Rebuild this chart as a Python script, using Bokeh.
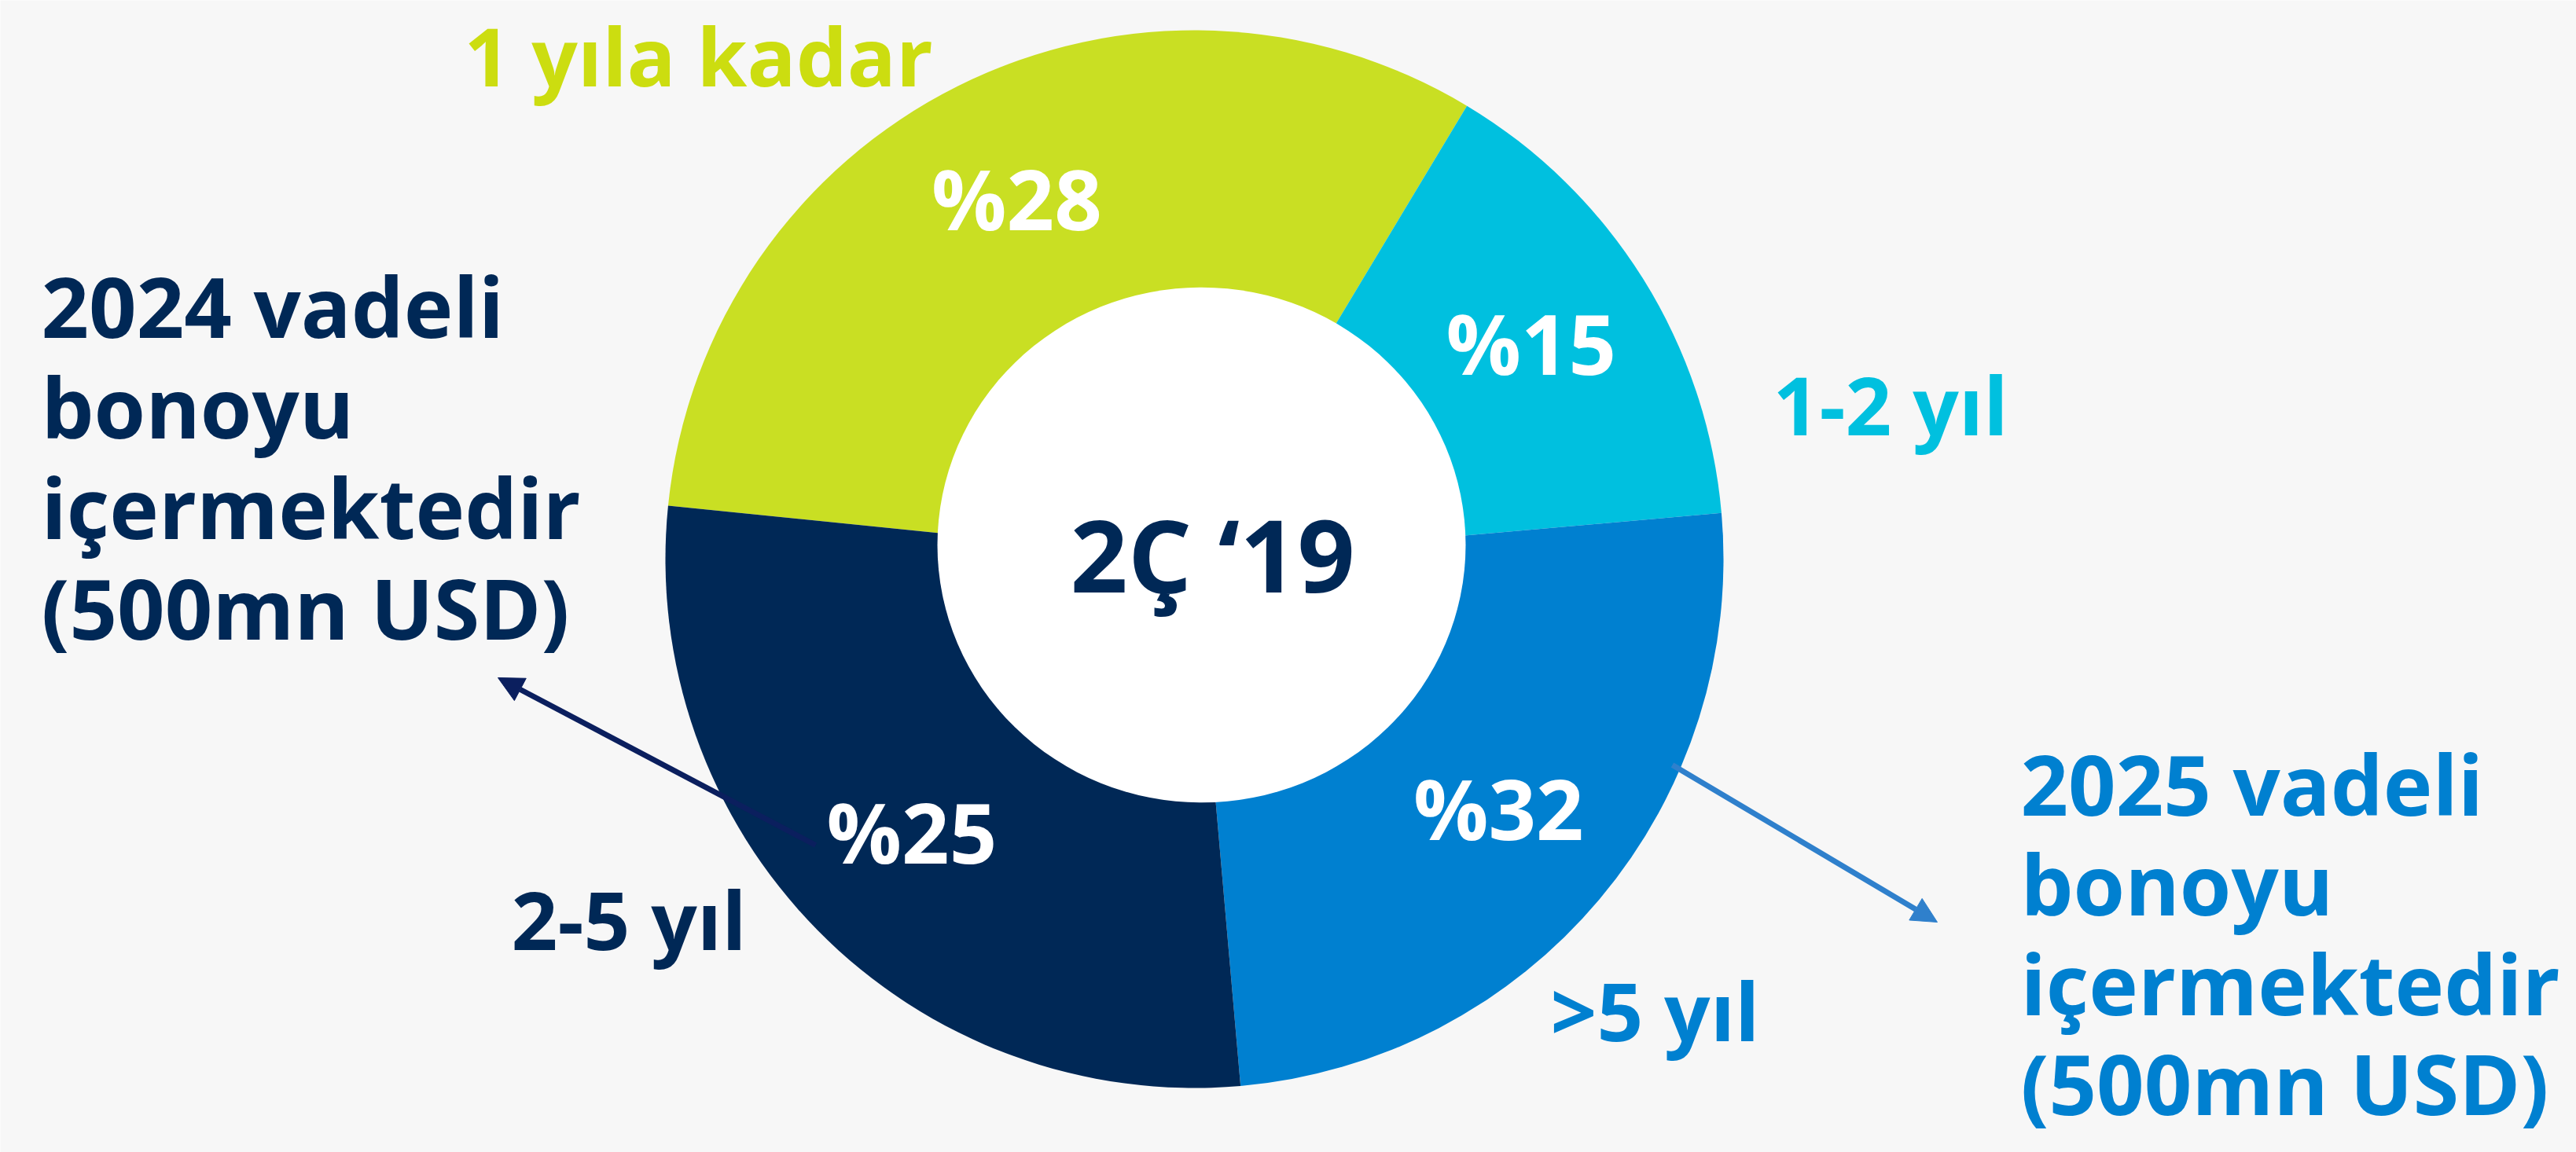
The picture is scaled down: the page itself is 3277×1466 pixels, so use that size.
import math
from bokeh.plotting import figure
from bokeh.models import ColumnDataSource, Range1d, Arrow, NormalHead
from bokeh.core.properties import value
from bokeh.embed import file_html
from bokeh.resources import INLINE

# ---------------- data ----------------
categories = ["1 yıla kadar", "1-2 yıl", ">5 yıl", "2-5 yıl"]
shares = [32, 15, 25, 28]                 # slice sizes as drawn (percent)
pct_labels = ["%28", "%15", "%32", "%25"]  # labels as printed on the slices
center_label = "2Ç ‘19"
note_left = ["2024 vadeli", "bonoyu", "içermektedir", "(500mn USD)"]
note_right = ["2025 vadeli", "bonoyu", "içermektedir", "(500mn USD)"]

# ---------------- styles / layout ----------------
slice_colors = ["#C9DF23", "#00C0DF", "#0080D0", "#002856"]
cat_colors = ["#CCDD10", "#00C0DF", "#0080D0", "#002856"]
BG = "#F7F7F7"
FONT = value("Open Sans")

W, H = 3277, 1466


def Y(py):
    # page pixel row -> data y (y grows upward)
    return 1466 - py


p = figure(width=W, height=H, x_range=Range1d(0, W), y_range=Range1d(1466 - H, 1466),
           output_backend="svg", toolbar_location=None, min_border=0,
           x_axis_type=None, y_axis_type=None,
           background_fill_color=BG, border_fill_color=BG, outline_line_color=None)
p.grid.visible = False

cx, cy = 1519, Y(711)
R_OUT = 673
start_deg = 174.2  # math angle where the first slice begins, slices run clockwise

hi, lo, mid = [], [], []
acc = 0.0
for s in shares:
    a_hi = start_deg - 3.6 * acc
    a_lo = a_hi - 3.6 * s
    hi.append(math.radians(a_hi))
    lo.append(math.radians(a_lo))
    mid.append(math.radians((a_hi + a_lo) / 2))
    acc += s

src = ColumnDataSource(dict(start=lo, end=hi, color=slice_colors))
p.wedge(x=cx, y=cy, radius=R_OUT, start_angle="start", end_angle="end",
        direction="anticlock", fill_color="color",
        line_color=None, source=src)

# hole
p.ellipse(x=1528, y=Y(693), width=672, height=656, fill_color="white", line_color=None)

# percentage labels at mid-angle of each slice
r_lab = 505
lx = [cx + r_lab * math.cos(m) for m in mid]
ly = [cy + r_lab * math.sin(m) + 8 for m in mid]
p.text(x=lx, y=ly, text=pct_labels, text_color="white", text_font=FONT,
       text_font_style="bold", text_font_size="106px", text_align="center",
       text_baseline="middle")

# centre label
p.text(x=[1542], y=[Y(704)], text=[center_label], text_color="#002856", text_font=FONT,
       text_font_style="bold", text_font_size="128px", text_align="center",
       text_baseline="middle")


def mid_of(baseline, fs):
    return Y(baseline - 0.36 * fs - 8)


# category labels
FS_CAT = 103
cat_x = [590, 2255, 1972, 650]
cat_base = [115, 559, 1330, 1214]
p.text(x=cat_x, y=[mid_of(b, FS_CAT) for b in cat_base], text=categories,
       text_color=cat_colors, text_font=FONT, text_font_style="bold",
       text_font_size=f"{FS_CAT}px", text_align="left", text_baseline="middle")

# notes
FS_NOTE = 106
p.text(x=[52] * 4, y=[mid_of(435 + 128 * i, FS_NOTE) for i in range(4)], text=note_left,
       text_color="#002856", text_font=FONT, text_font_style="bold",
       text_font_size=f"{FS_NOTE}px", text_align="left", text_baseline="middle")
p.text(x=[2570] * 4, y=[mid_of(1043 + 127 * i, FS_NOTE) for i in range(4)], text=note_right,
       text_color="#0080D0", text_font=FONT, text_font_style="bold",
       text_font_size=f"{FS_NOTE}px", text_align="left", text_baseline="middle")

# arrows
c1 = "#0B1F5E"
p.add_layout(Arrow(end=NormalHead(size=32, fill_color=c1, line_color=c1),
                   x_start=1037, y_start=Y(1075), x_end=633, y_end=Y(862),
                   line_color=c1, line_width=7))
c2 = "#2F80CC"
p.add_layout(Arrow(end=NormalHead(size=32, fill_color=c2, line_color=c2),
                   x_start=2127, y_start=Y(973), x_end=2464, y_end=Y(1173),
                   line_color=c2, line_width=7))

open("out.html", "w").write(file_html(p, INLINE))
